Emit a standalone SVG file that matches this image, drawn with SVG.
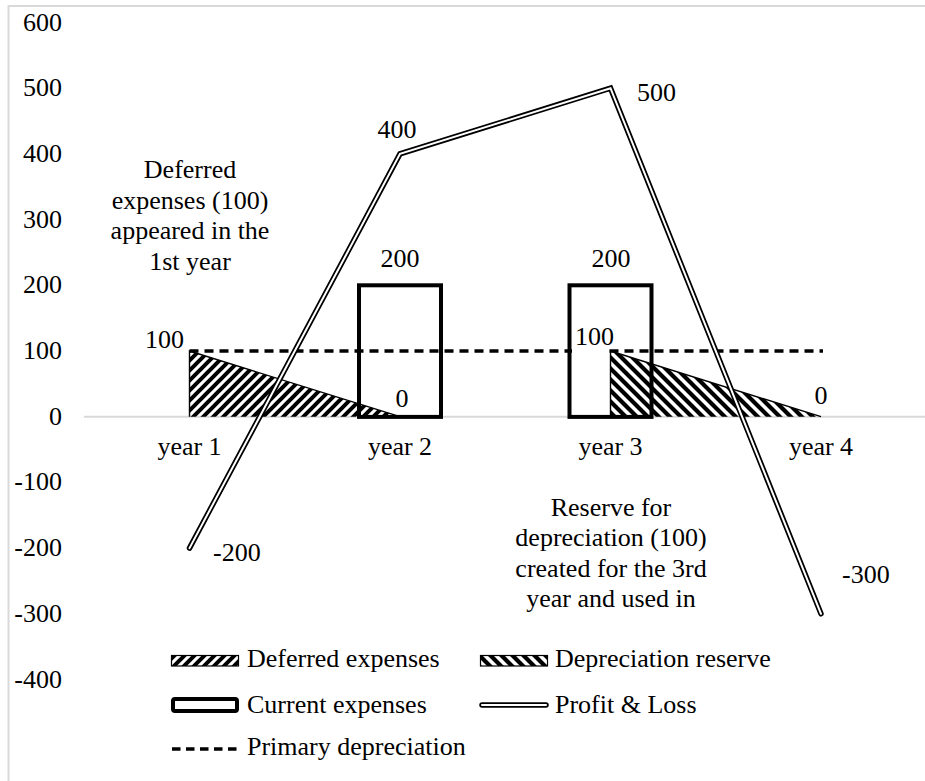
<svg xmlns="http://www.w3.org/2000/svg" width="925" height="781" viewBox="0 0 925 781">
<style>
text{font-family:"Liberation Serif","Times New Roman",serif;font-size:26px;fill:#000}
.ax{text-anchor:end}
.mid{text-anchor:middle}
.grid{stroke:#d9d9d9;stroke-width:2;fill:none}
.bar{fill:none;stroke:#000;stroke-width:4}
.edge{fill:none;stroke:#000;stroke-width:1.4}
.dash{fill:none;stroke:#000;stroke-width:3.3;stroke-dasharray:9 6}
.pl-o{fill:none;stroke:#000;stroke-width:5.5;stroke-linejoin:miter;stroke-linecap:round}
.pl-i{fill:none;stroke:#fff;stroke-width:2;stroke-linejoin:miter;stroke-linecap:round}
</style>
<defs>
<pattern id="hUp" patternUnits="userSpaceOnUse" width="10" height="10">
<path d="M-2,2 L2,-2 M0,10 L10,0 M8,12 L12,8" stroke="#000" stroke-width="4"/>
</pattern>
<pattern id="hDown" patternUnits="userSpaceOnUse" width="11" height="11">
<path d="M-2,9 L2,13 M0,0 L11,11 M9,-2 L13,2" stroke="#000" stroke-width="4.2"/>
</pattern>
</defs>
<rect width="925" height="781" fill="#fff"/>
<rect id="frame" x="8.5" y="6" width="1000" height="1000" class="grid"/>

<g id="y-axis">
<text class="ax" x="62" y="30.5">600</text>
<text class="ax" x="62" y="96.2">500</text>
<text class="ax" x="62" y="161.9">400</text>
<text class="ax" x="62" y="227.6">300</text>
<text class="ax" x="62" y="293.3">200</text>
<text class="ax" x="62" y="359">100</text>
<text class="ax" x="62" y="424.7">0</text>
<text class="ax" x="62" y="490.4">-100</text>
<text class="ax" x="62" y="556.1">-200</text>
<text class="ax" x="62" y="621.8">-300</text>
<text class="ax" x="62" y="687.5">-400</text>
</g>

<g id="x-axis">
<line x1="84" y1="416.7" x2="925" y2="416.7" class="grid"/>
<text class="mid" x="189.5" y="455">year 1</text>
<text class="mid" x="400" y="455">year 2</text>
<text class="mid" x="610.5" y="455">year 3</text>
<text class="mid" x="821" y="455">year 4</text>
</g>

<g id="current-expenses">
<rect class="bar" x="359" y="285.3" width="82" height="131.6"/>
<rect class="bar" x="569.5" y="285.3" width="82" height="131.6"/>
<text class="mid" x="400" y="267">200</text>
<text class="mid" x="611" y="267">200</text>
</g>

<g id="deferred-expenses">
<polygon points="189.5,351 400,416.7 189.5,416.7" fill="url(#hUp)"/>
<polyline class="edge" points="189.5,416.7 189.5,351 400,416.7"/>
</g>

<g id="depreciation-reserve">
<polygon points="610.5,351 821,416.7 610.5,416.7" fill="url(#hDown)"/>
<polyline class="edge" points="610.5,416.7 610.5,351 821,416.7"/>
</g>

<g id="primary-depreciation">
<line class="dash" x1="189.5" y1="351" x2="823" y2="351"/>
</g>

<g id="profit-loss">
<polyline class="pl-o" points="189.5,548.1 400,153.9 610.5,88.2 821,613.8"/>
<polyline class="pl-i" points="189.5,548.1 400,153.9 610.5,88.2 821,613.8"/>
</g>

<g id="data-labels">
<text class="ax" x="184" y="348">100</text>
<rect x="572" y="330" width="37" height="24" fill="#fff"/>
<text x="575" y="345">100</text>
<text class="mid" x="402" y="407">0</text>
<text class="mid" x="821" y="404">0</text>
<text class="mid" x="397" y="138">400</text>
<text x="637" y="101">500</text>
<text x="213" y="561">-200</text>
<text x="842" y="583">-300</text>
</g>

<g id="note-deferred">
<text class="mid" x="190" y="178">Deferred</text>
<text class="mid" x="190" y="208.5">expenses (100)</text>
<text class="mid" x="190" y="239">appeared in the</text>
<text class="mid" x="190" y="269.5">1st year</text>
</g>

<g id="note-reserve">
<text class="mid" x="611" y="515.5">Reserve for</text>
<text class="mid" x="611" y="546">depreciation (100)</text>
<text class="mid" x="611" y="576.5">created for the 3rd</text>
<text class="mid" x="611" y="607">year and used in</text>
</g>

<g id="legend">
<rect x="171.5" y="655.5" width="67" height="10.5" fill="url(#hUp)" stroke="#000" stroke-width="1.2"/>
<text x="247" y="667">Deferred expenses</text>
<rect x="480.5" y="655.5" width="67" height="10.5" fill="url(#hDown)" stroke="#000" stroke-width="1.2"/>
<text x="555" y="667">Depreciation reserve</text>
<rect x="173" y="699" width="64" height="12" rx="2" fill="#fff" stroke="#000" stroke-width="4"/>
<text x="247" y="713">Current expenses</text>
<line class="pl-o" x1="482" y1="705" x2="546" y2="705"/>
<line class="pl-i" x1="482" y1="705" x2="546" y2="705"/>
<text x="555" y="713">Profit &amp; Loss</text>
<line x1="172" y1="749" x2="240" y2="749" stroke="#000" stroke-width="3.3" stroke-dasharray="8.5 5.5"/>
<text x="247" y="755">Primary depreciation</text>
</g>
</svg>
